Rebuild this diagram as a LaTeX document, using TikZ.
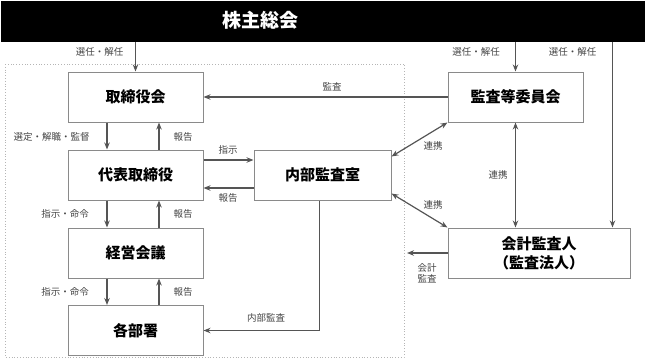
\documentclass[tikz,border=0pt]{standalone}
\usepackage{fontspec}
\setmainfont{Noto Sans CJK JP}
\usetikzlibrary{arrows.meta, positioning, calc}
\definecolor{cline}{HTML}{555555}
\definecolor{cframe}{HTML}{8A8A8A}
\definecolor{cdot}{HTML}{B5B5B5}
\definecolor{ctext}{HTML}{444444}
\tikzset{
  every picture/.style={line width=1pt},
  org/.style={draw=cframe, fill=white, align=center, minimum width=135pt, minimum height=50pt, inner sep=2pt, font=\fontsize{15}{19}\selectfont\bfseries},
  header/.style={fill=black, draw=none, minimum width=645pt, minimum height=41pt, inner sep=0pt},
  arrow/.style={-{Stealth[length=7pt, width=5.5pt]}, draw=cline, line width=1.2pt},
  both/.style={arrow, {Stealth[length=7pt, width=5.5pt]}-{Stealth[length=7pt, width=5.5pt]}},
  lbl/.style={font=\fontsize{9.5}{11}\selectfont, text=ctext, align=center, inner sep=1pt},
  frame/.style={draw=cdot, dotted, line width=0.8pt},
}

\begin{document}
\begin{tikzpicture}[x=1pt, y=-1pt]
  \useasboundingbox (0,0) rectangle (645,362);

  % shareholders meeting
  \node[header, anchor=north west] (gm) at (0,0) {};
  \node[font=\fontsize{19}{22}\selectfont\bfseries, text=white] (gmt) at (260,20) {株主総会};

  % company frame
  \draw[frame] (5,64) rectangle (404,357);

  % executive side
  \node[org] (bod) at (135.5,97) {取締役会};
  \node[org] (rep) at (135.5,175) {代表取締役};
  \node[org] (mtg) at (135.5,253) {経営会議};
  \node[org] (dep) at (135.5,330.5) {各部署};
  \node[org, minimum width=137pt] (iao) at (322.5,175) {内部監査室};

  % audit side
  \node[org] (aud) at (515.5,97) {監査等委員会};
  \node[org, minimum width=182pt] (ca) at (539,253) {会計監査人\\（監査法人）};

  % election
  \draw[arrow] (gm.south -| bod.north) -- (bod.north);
  \draw[arrow] (gm.south -| aud.north) -- (aud.north);
  \draw[arrow] ([xshift=-18pt]ca.north east |- gm.south) -- ([xshift=-18pt]ca.north east);
  \node[lbl] (l1) at (99.5,52) {選任・解任};
  \node[lbl] (l2) at (476,52) {選任・解任};
  \node[lbl] (l3) at (572.5,52) {選任・解任};

  % chain of command
  \draw[arrow] ([xshift=-28.5pt]bod.south) -- ([xshift=-28.5pt]rep.north);
  \draw[arrow] ([xshift=23.5pt]rep.north) -- ([xshift=23.5pt]bod.south);
  \draw[arrow] ([xshift=-28.5pt]rep.south) -- ([xshift=-28.5pt]mtg.north);
  \draw[arrow] ([xshift=23.5pt]mtg.north) -- ([xshift=23.5pt]rep.south);
  \draw[arrow] ([xshift=-28.5pt]mtg.south) -- ([xshift=-28.5pt]dep.north);
  \draw[arrow] ([xshift=23.5pt]dep.north) -- ([xshift=23.5pt]mtg.south);
  \node[lbl] (l4) at (51.5,137) {選定・解職・監督};
  \node[lbl] (l5) at (183,137) {報告};
  \node[lbl] (l6) at (65,214) {指示・命令};
  \node[lbl] (l7) at (183,214) {報告};
  \node[lbl] (l8) at (65,292) {指示・命令};
  \node[lbl] (l9) at (183,292) {報告};

  % internal audit office
  \draw[arrow] ([yshift=15pt]rep.east) -- ([yshift=15pt]iao.west);
  \draw[arrow] ([yshift=-13pt]iao.west) -- ([yshift=-13pt]rep.east);
  \draw[arrow] ([xshift=-3pt]iao.south) |- (dep.east);
  \node[lbl] (l10) at (228,150) {指示};
  \node[lbl] (l11) at (228,198) {報告};
  \node[lbl] (l12) at (266,318) {内部監査};

  % audit and cooperation
  \draw[arrow] (aud.west) -- (bod.east);
  \draw[both] ([yshift=-7pt]iao.north east) -- (aud.south west);
  \draw[both] ([yshift=7pt]iao.south east) -- (ca.north west);
  \draw[both] (aud.south) -- (aud.south |- ca.north);
  \coordinate (caend) at (407,253);
  \draw[arrow] (ca.west) -- (caend);
  \node[lbl] (l13) at (332,87) {監査};
  \node[lbl] (l14) at (433,146) {連携};
  \node[lbl] (l15) at (498,175) {連携};
  \node[lbl] (l16) at (433,205) {連携};
  \node[lbl] (l17) at (427,273) {会計\\監査};
\end{tikzpicture}
\end{document}
